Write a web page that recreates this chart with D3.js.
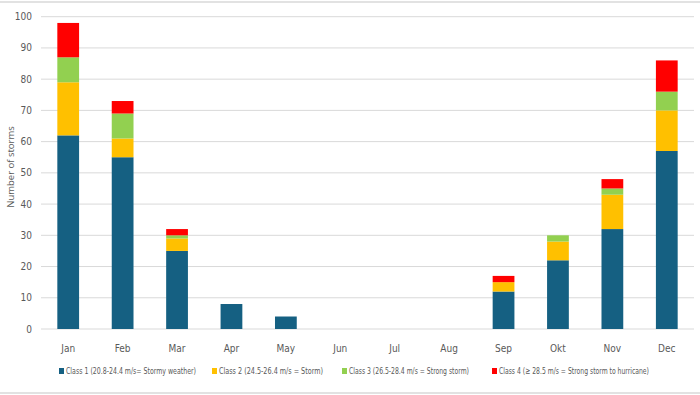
<!DOCTYPE html>
<html>
<head>
<meta charset="utf-8">
<script src="https://cdn.jsdelivr.net/npm/d3@7"></script>
<style>
  body { margin: 0; background: #fff; }
  svg text { font-family: "DejaVu Sans Condensed", "DejaVu Sans", sans-serif; font-stretch: condensed; fill: #595959; }
</style>
</head>
<body>
<div id="chart"></div>
<script>
const months = ["Jan", "Feb", "Mar", "Apr", "May", "Jun", "Jul", "Aug", "Sep", "Okt", "Nov", "Dec"];
const class1 = [62, 55, 25, 8, 4, 0, 0, 0, 12, 22, 32, 57];
const class2 = [17, 6, 4, 0, 0, 0, 0, 0, 3, 6, 11, 13];
const class3 = [8, 8, 1, 0, 0, 0, 0, 0, 0, 2, 2, 6];
const class4 = [11, 4, 2, 0, 0, 0, 0, 0, 2, 0, 3, 10];
const seriesNames = [
    "Class 1 (20.8-24.4 m/s= Stormy weather)",
    "Class 2 (24.5-26.4 m/s = Storm)",
    "Class 3 (26.5-28.4 m/s = Strong storm)",
    "Class 4 (\u2265 28.5 m/s = Strong storm to hurricane)"
];
const yTicks = [0, 10, 20, 30, 40, 50, 60, 70, 80, 90, 100];

function init() {
    var w = 700;
    var h = 395;
    var colors = ["#156082", "#ffc000", "#92d050", "#ff0000"];
    var keys = ["c1", "c2", "c3", "c4"];

    var table = months.map((m, i) => ({
        month: m, c1: class1[i], c2: class2[i], c3: class3[i], c4: class4[i]
    }));
    var stacked = d3.stack().keys(keys)(table);

    var svg = d3.select("#chart").append("svg")
        .attr("width", w)
        .attr("height", h);

    // frame lines
    svg.append("line").attr("x1", 0).attr("x2", w).attr("y1", 2).attr("y2", 2)
        .attr("stroke", "#d9d9d9").attr("stroke-width", 1.5);
    svg.append("line").attr("x1", 0).attr("x2", w).attr("y1", 393).attr("y2", 393)
        .attr("stroke", "#d9d9d9").attr("stroke-width", 1.5);

    var x = d3.scaleBand().domain(months).range([41, 694]).paddingInner(0.6).paddingOuter(0.3);
    var y = d3.scaleLinear().domain([0, 100]).range([329, 16.7]);

    svg.append("g").selectAll("line").data(yTicks).join("line")
        .attr("x1", 41).attr("x2", 694)
        .attr("y1", d => y(d)).attr("y2", d => y(d))
        .attr("stroke", "#d9d9d9").attr("stroke-width", 1);

    svg.append("g").selectAll("text").data(yTicks).join("text")
        .attr("x", 32).attr("y", d => y(d) + 3.5)
        .attr("text-anchor", "end")
        .style("font-size", "10px")
        .text(d => d);

    svg.append("g").selectAll("g").data(stacked).join("g")
        .attr("fill", (d, i) => colors[i])
        .selectAll("rect").data(d => d).join("rect")
        .attr("x", d => x(d.data.month))
        .attr("width", x.bandwidth())
        .attr("y", d => y(d[1]))
        .attr("height", d => y(d[0]) - y(d[1]));

    svg.append("g").selectAll("text").data(months).join("text")
        .attr("x", d => x(d) + x.bandwidth() / 2)
        .attr("y", 352)
        .attr("text-anchor", "middle")
        .style("font-size", "10px")
        .text(d => d);

    svg.append("text")
        .attr("transform", "rotate(-90)")
        .attr("x", -167)
        .attr("y", 14)
        .attr("text-anchor", "middle")
        .style("font-family", "'Open Sans', sans-serif")
        .style("font-stretch", "normal")
        .style("font-size", "9.5px")
        .text("Number of storms");

    // legend: square position and text width per entry
    var legendX = [59, 212, 342, 492];
    var legendW = [130, 104, 120, 150];
    var legend = svg.append("g").selectAll("g").data(seriesNames).join("g")
        .attr("transform", (d, i) => `translate(${legendX[i]},374)`);
    legend.append("rect").attr("x", 0).attr("y", -6).attr("width", 5).attr("height", 6)
        .attr("fill", (d, i) => colors[i]);
    legend.append("text").attr("x", 7).attr("y", 0)
        .attr("textLength", (d, i) => legendW[i])
        .attr("lengthAdjust", "spacingAndGlyphs")
        .style("font-size", "9.5px")
        .text(d => d);
}

window.onload = init;
</script>
</body>
</html>
